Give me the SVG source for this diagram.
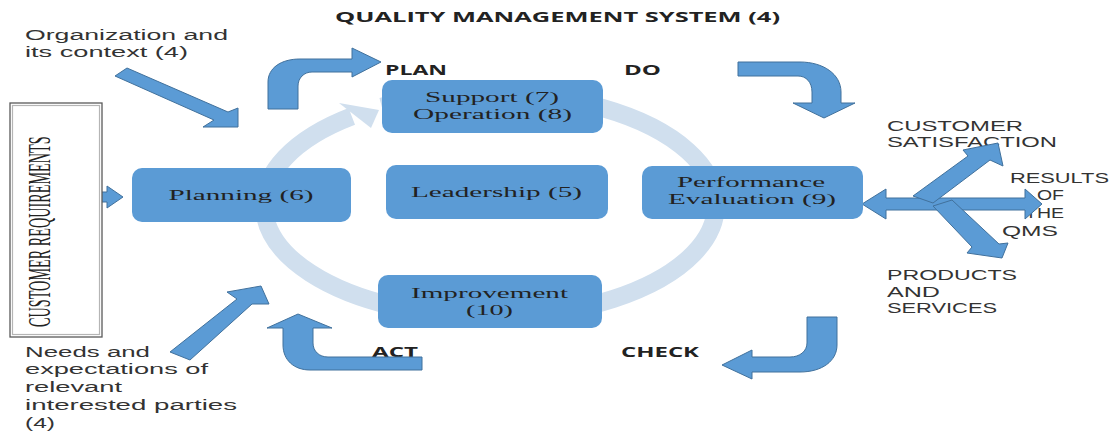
<svg xmlns="http://www.w3.org/2000/svg" width="1113" height="434" viewBox="0 0 1113 434">
<style>
.box{fill:#5b9bd5;}
.arrow{fill:#5b9bd5;stroke:#41719c;stroke-width:1;stroke-linejoin:miter;}
.ring{fill:none;stroke:#d0dfee;stroke-width:18;}
.serif{font-family:"Liberation Serif","Times New Roman",serif;font-size:15.5px;fill:#222;text-anchor:middle;}
.lbl{font-family:"Liberation Sans",Arial,sans-serif;font-size:14px;fill:#333;}
.hd{font-family:"Open Sans","Liberation Sans",sans-serif;font-size:14px;font-weight:700;fill:#222;}
</style>
<rect width="1113" height="434" fill="#ffffff"/>

<text class="hd" x="335" y="22" textLength="445" lengthAdjust="spacingAndGlyphs">QUALITY MANAGEMENT SYSTEM (4)</text>

<g id="labels">
<text class="lbl" x="25" y="40" textLength="203" lengthAdjust="spacingAndGlyphs">Organization and</text>
<text class="lbl" x="25" y="57" textLength="163" lengthAdjust="spacingAndGlyphs">its context (4)</text>
<text class="lbl" x="25" y="357" textLength="125" lengthAdjust="spacingAndGlyphs">Needs and</text>
<text class="lbl" x="25" y="374" textLength="183" lengthAdjust="spacingAndGlyphs">expectations of</text>
<text class="lbl" x="25" y="392" textLength="97" lengthAdjust="spacingAndGlyphs">relevant</text>
<text class="lbl" x="25" y="410" textLength="212" lengthAdjust="spacingAndGlyphs">interested parties</text>
<text class="lbl" x="25" y="428" textLength="30" lengthAdjust="spacingAndGlyphs">(4)</text>
<text class="hd" x="385" y="75" textLength="62" lengthAdjust="spacingAndGlyphs">PLAN</text>
<text class="hd" x="624" y="75" textLength="37" lengthAdjust="spacingAndGlyphs">DO</text>
<text class="hd" x="621" y="357" textLength="78" lengthAdjust="spacingAndGlyphs">CHECK</text>
<text class="hd" x="372" y="357" textLength="46" lengthAdjust="spacingAndGlyphs">ACT</text>
<text class="lbl" x="887" y="131" textLength="136" lengthAdjust="spacingAndGlyphs">CUSTOMER</text>
<text class="lbl" x="887" y="147" textLength="170" lengthAdjust="spacingAndGlyphs">SATISFACTION</text>
<text class="lbl" x="1010" y="183" textLength="99" lengthAdjust="spacingAndGlyphs">RESULTS</text>
<text class="lbl" x="1037" y="200" textLength="27" lengthAdjust="spacingAndGlyphs">OF</text>
<text class="lbl" x="1025" y="218" textLength="39" lengthAdjust="spacingAndGlyphs">THE</text>
<text class="lbl" x="1002" y="236" textLength="56" lengthAdjust="spacingAndGlyphs">QMS</text>
<text class="lbl" x="887" y="280" textLength="130" lengthAdjust="spacingAndGlyphs">PRODUCTS</text>
<text class="lbl" x="887" y="297" textLength="53" lengthAdjust="spacingAndGlyphs">AND</text>
<text class="lbl" x="887" y="313" textLength="110" lengthAdjust="spacingAndGlyphs">SERVICES</text>
</g>

<g id="connectors">
<path class="ring" d="M381.8,106.7 A226,112 0 1 1 351.8,116.4"/>
<polygon fill="#d0dfee" points="339,103 379,110 371,128"/>
<path class="arrow" d="M268,109 L268,82 C268,68 281,59 300,59 L352,59 L352,48 L381,62 L352,77 L352,72 L312,72 C304,72 298,78 298,86 L298,109 Z"/>
<path class="arrow" d="M738,62 L800,62 C823,62 841,74 841,92 L841,103 L855,103 L824,118 L793,103 L812,103 L812,92 C812,82 806,76 798,76 L738,76 Z"/>
<path class="arrow" d="M807,317 L837,317 L837,345 C837,361 822,372 800,372 L752,372 L752,379 L722,365 L752,350 L752,357 L790,357 C800,357 807,351 807,343 Z"/>
<path class="arrow" d="M422,370 L310,370 C294,370 283,360 283,345 L283,328 L267,328 L298,314 L332,328 L313,328 L313,343 C313,351 319,357 328,357 L422,357 Z"/>
<polygon class="arrow" points="127,68 228,112 238,108 238,127 203,127 214,120 115,76"/>
<polygon class="arrow" points="170,352 237,299 227,292 261,286 269,304 252,304 190,360"/>
<polygon class="arrow" points="62,192 107,192 107,186 123,197 107,208 107,202 62,202"/>
<polygon class="arrow" points="862,204 886,189 886,198 1025,198 1025,189 1042,204 1025,219 1025,210 886,210 886,219"/>
<polygon class="arrow" points="913,196 968,156 963,150 998,143 1003,166 990,160 933,203"/>
<polygon class="arrow" points="933,206 972,247 967,253 1002,258 1008,243 999,244 952,200"/>
</g>

<g id="customer-requirements">
<rect x="10" y="103" width="92" height="234" fill="#ffffff" stroke="#5a5a5a" stroke-width="1.3"/>
<rect x="12.5" y="105.5" width="87" height="229" fill="none" stroke="#b5b5b5" stroke-width="1.2"/>
<text transform="translate(50,327) rotate(-90) scale(0.445,1)" font-family="'Liberation Serif','Times New Roman',serif" font-size="32" fill="#222">CUSTOMER REQUIREMENTS</text>
</g>

<g id="planning">
<rect class="box" x="132" y="168" width="219" height="54" rx="10"/>
<text class="serif" x="241" y="200" textLength="145" lengthAdjust="spacingAndGlyphs">Planning (6)</text>
</g>
<g id="support-operation">
<rect class="box" x="382" y="80" width="221" height="53" rx="10"/>
<text class="serif" x="492" y="102" textLength="134" lengthAdjust="spacingAndGlyphs">Support (7)</text>
<text class="serif" x="492.5" y="119" textLength="159" lengthAdjust="spacingAndGlyphs">Operation (8)</text>
</g>
<g id="leadership">
<rect class="box" x="386" y="165" width="222" height="54" rx="10"/>
<text class="serif" x="496.5" y="197" textLength="171" lengthAdjust="spacingAndGlyphs">Leadership (5)</text>
</g>
<g id="improvement">
<rect class="box" x="378" y="275" width="224" height="53" rx="10"/>
<text class="serif" x="489.5" y="298" textLength="157" lengthAdjust="spacingAndGlyphs">Improvement</text>
<text class="serif" x="489.5" y="315" textLength="47" lengthAdjust="spacingAndGlyphs">(10)</text>
</g>
<g id="performance-evaluation">
<rect class="box" x="642" y="166" width="221" height="53" rx="10"/>
<text class="serif" x="751" y="187" textLength="148" lengthAdjust="spacingAndGlyphs">Performance</text>
<text class="serif" x="752" y="204" textLength="168" lengthAdjust="spacingAndGlyphs">Evaluation (9)</text>
</g>
</svg>
